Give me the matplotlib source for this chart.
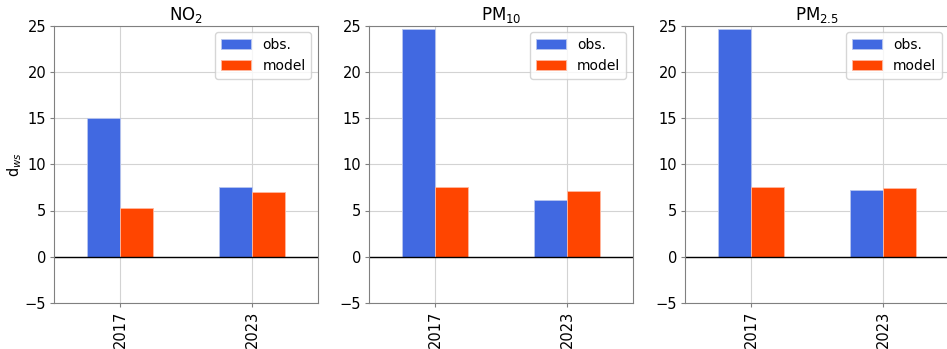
import numpy as np
import matplotlib
matplotlib.use("Agg")
import matplotlib.pyplot as plt

years = ["2017", "2023"]
titles = ["NO$_2$", "PM$_{10}$", "PM$_{2.5}$"]
obs = [[15.0, 7.55], [24.6, 6.1], [24.6, 7.2]]
model = [[5.3, 6.95], [7.5, 7.1], [7.5, 7.4]]

fig = plt.figure(figsize=(9.47, 3.49), dpi=100)
lefts = [54, 369, 685]
w, h = 264, 277.5
x = np.arange(len(years))
bw = 0.25

for i in range(3):
    ax = fig.add_axes([lefts[i] / 947, (349 - 303) / 349, w / 947, h / 349])
    ax.set_axisbelow(True)
    ax.grid(True, color="#d3d3d3", lw=0.8)
    ax.bar(x - bw / 2, obs[i], bw, color="royalblue", edgecolor="#b8c6f0", lw=0.6, label="obs.")
    ax.bar(x + bw / 2, model[i], bw, color="orangered", edgecolor="#ffb8a0", lw=0.6, label="model")
    ax.axhline(0, color="black", lw=1)
    ax.set_xlim(-0.5, 1.5)
    ax.set_ylim(-5, 25)
    ax.set_xticks(x)
    ax.set_xticklabels(years, rotation=90)
    ax.set_yticks([-5, 0, 5, 10, 15, 20, 25])
    ax.tick_params(labelsize=10.5, color="#808080", length=3, pad=2.5)
    for s in ax.spines.values():
        s.set_color("#808080")
    ax.set_title(titles[i], fontsize=12, pad=4)
    ax.legend(loc="upper right", fontsize=10, handlelength=2.2, framealpha=0.8)
    if i == 0:
        ax.set_ylabel("d$_{ws}$", fontsize=10.5)
        ax.yaxis.set_label_coords(-0.115, 0.5)

fig.savefig("out.png", dpi=100)
